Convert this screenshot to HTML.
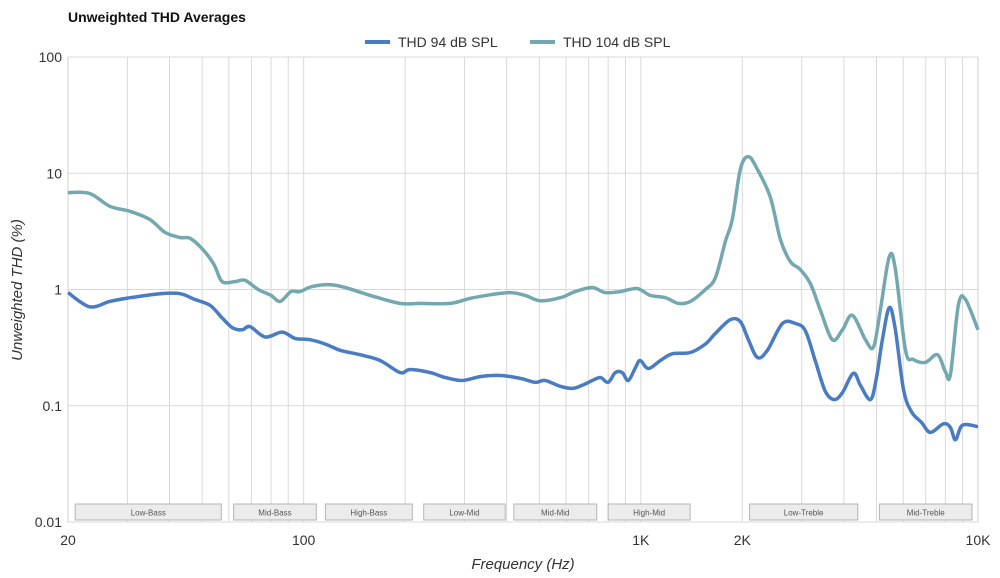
<!DOCTYPE html>
<html><head><meta charset="utf-8"><style>
body{margin:0;background:#fff;font-family:"Liberation Sans",sans-serif}
svg{display:block}
</style></head><body>
<svg id="chart" width="1000" height="578" viewBox="0 0 1000 578" xmlns="http://www.w3.org/2000/svg">
<text x="68" y="22" font-size="14" font-weight="bold" fill="#111">Unweighted THD Averages</text>
<g>
<g><line x1="365" y1="42" x2="390" y2="42" stroke="#4a7cc4" stroke-width="4"/><text x="398" y="47" font-size="14" fill="#333">THD 94 dB SPL</text></g>
<g><line x1="530" y1="42" x2="555" y2="42" stroke="#74a8b0" stroke-width="4"/><text x="563" y="47" font-size="14" fill="#333">THD 104 dB SPL</text></g>
</g>
<g id="grid"></g>
<g id="bands"></g>
<g id="axes"></g>
<g id="series"></g>
<text x="523" y="569" font-size="15" font-style="italic" text-anchor="middle" fill="#333">Frequency (Hz)</text>
<text transform="translate(22,290) rotate(-90)" font-size="15" font-style="italic" text-anchor="middle" fill="#333">Unweighted THD (%)</text>
</svg>
<script>
const freq94=[20,23.2,26.6,30.6,37.5,43,47.6,52.8,57.3,61.4,65.7,69.3,76.9,86.3,94.3,104.5,115.8,128.3,146.9,168.6,193.3,207,237,263,295,334,383,439,486,520,577,626,670,718,759,800,840,881,918,964,996,1052,1143,1240,1403,1554,1665,1842,1973,2084,2217,2373,2630,2873,3077,3296,3525,3750,3963,4270,4480,4800,5000,5204,5458,5688,6012,6345,6794,7226,7894,8284,8575,8994,10000];
const thd94=[0.94,0.71,0.79,0.85,0.92,0.92,0.82,0.73,0.57,0.47,0.45,0.48,0.39,0.43,0.38,0.37,0.34,0.30,0.275,0.245,0.193,0.205,0.193,0.175,0.165,0.178,0.182,0.172,0.159,0.165,0.147,0.141,0.150,0.165,0.175,0.159,0.193,0.193,0.165,0.213,0.245,0.209,0.245,0.28,0.287,0.34,0.42,0.55,0.53,0.37,0.26,0.30,0.51,0.51,0.44,0.24,0.133,0.113,0.130,0.19,0.15,0.113,0.175,0.37,0.70,0.45,0.138,0.089,0.072,0.059,0.070,0.065,0.051,0.068,0.066];
const freq104=[20,23.2,26.6,30.6,35,38.8,43,46.1,50.3,54.2,57.3,62.6,67,73.3,80,85.2,91.7,97.5,105.9,119.8,132.8,157.5,193,222,272,312,357,410,454,503,577,639,718,784,869,975,1067,1183,1292,1403,1554,1665,1782,1868,1973,2084,2217,2422,2594,2776,2970,3180,3405,3697,3963,4240,4636,4900,5135,5458,5688,6095,6430,6980,7580,8000,8284,8750,9180,10000];
const thd104=[6.8,6.7,5.2,4.7,4.0,3.1,2.8,2.75,2.2,1.64,1.17,1.17,1.2,1.0,0.89,0.79,0.96,0.96,1.06,1.1,1.04,0.89,0.76,0.76,0.76,0.84,0.9,0.94,0.89,0.8,0.85,0.96,1.04,0.94,0.96,1.02,0.89,0.85,0.76,0.79,1.0,1.27,2.6,4.0,10.8,13.9,10.8,6.2,2.7,1.74,1.49,1.13,0.67,0.37,0.45,0.6,0.37,0.32,0.67,1.92,1.49,0.30,0.25,0.236,0.275,0.197,0.185,0.74,0.82,0.45];
const gridFreqs=[30,40,50,60,70,80,90,100,200,300,400,500,600,700,800,900,1000,2000,3000,4000,5000,6000,7000,8000,9000];
const xTickVals=[20,100,1000,2000,10000];
const xTickLabels=["20","100","1K","2K","10K"];
const yTickVals=[100,10,1,0.1,0.01];
const yTickLabels=["100","10","1","0.1","0.01"];
const bandNames=["Low-Bass","Mid-Bass","High-Bass","Low-Mid","Mid-Mid","High-Mid","Low-Treble","Mid-Treble"];
const bandStart=[21,62,116,227,420,800,2100,5100];
const bandEnd=[57,109,210,396,740,1400,4400,9600];

const X0=68,X1=978,Y0=57,Y1=522;
const NS="http://www.w3.org/2000/svg";
const lf=Math.log10(20),lt=Math.log10(10000);
function xs(f){return X0+(Math.log10(f)-lf)/(lt-lf)*(X1-X0);}
function ys(v){return Y1-(Math.log10(v)+2)/4*(Y1-Y0);}
function mk(tag,attrs,parent){const e=document.createElementNS(NS,tag);for(const k in attrs)e.setAttribute(k,attrs[k]);parent.appendChild(e);return e;}
const grid=document.getElementById('grid'),axes=document.getElementById('axes'),bands=document.getElementById('bands'),series=document.getElementById('series');
gridFreqs.forEach(f=>{const l=mk('line',{x1:xs(f),x2:xs(f),y1:Y0,y2:Y1,stroke:'#d9d9d9','stroke-width':1},grid);

});
yTickVals.forEach((v,i)=>{const l=mk('line',{x1:X0,x2:X1,y1:ys(v),y2:ys(v),stroke:'#d9d9d9','stroke-width':1},grid);


const t=mk('text',{x:X0-6,y:ys(v)+5,'text-anchor':'end','font-size':14,fill:'#333'},axes);t.textContent=yTickLabels[i];

});
const b1=mk('line',{x1:X0,x2:X0,y1:Y0,y2:Y1,stroke:'#d0d0d0'},grid);


const b2=mk('line',{x1:X1,x2:X1,y1:Y0,y2:Y1,stroke:'#d0d0d0'},grid);


xTickVals.forEach((f,i)=>{const t=mk('text',{x:xs(f),y:545,'text-anchor':'middle','font-size':14,fill:'#333'},axes);t.textContent=xTickLabels[i];

});
bandNames.forEach((n,i)=>{const a=xs(bandStart[i]),b=xs(bandEnd[i]);
const r=mk('rect',{x:a,y:504,width:b-a,height:16,fill:'#ececec',stroke:'#b5b5b5','stroke-width':1},bands);


const t=mk('text',{x:(a+b)/2,y:515.5,'text-anchor':'middle','font-size':8,fill:'#555'},bands);t.textContent=n;

});
function path(fr,vals){const p=fr.map((f,i)=>[xs(f),ys(vals[i])]);let d='M'+p[0][0].toFixed(1)+','+p[0][1].toFixed(1);
for(let i=0;i<p.length-1;i++){const p0=p[Math.max(0,i-1)],p1=p[i],p2=p[i+1],p3=p[Math.min(p.length-1,i+2)];
const c1=[p1[0]+(p2[0]-p0[0])/6,p1[1]+(p2[1]-p0[1])/6],c2=[p2[0]-(p3[0]-p1[0])/6,p2[1]-(p3[1]-p1[1])/6];
d+='C'+c1[0].toFixed(1)+','+c1[1].toFixed(1)+' '+c2[0].toFixed(1)+','+c2[1].toFixed(1)+' '+p2[0].toFixed(1)+','+p2[1].toFixed(1);}
return d;}
const s104=mk('path',{d:path(freq104,thd104),fill:'none',stroke:'#74a8b0','stroke-width':3.5,'stroke-linejoin':'round'},series);


const s94=mk('path',{d:path(freq94,thd94),fill:'none',stroke:'#4a7cc4','stroke-width':3.5,'stroke-linejoin':'round'},series);


</script>
</body></html>
